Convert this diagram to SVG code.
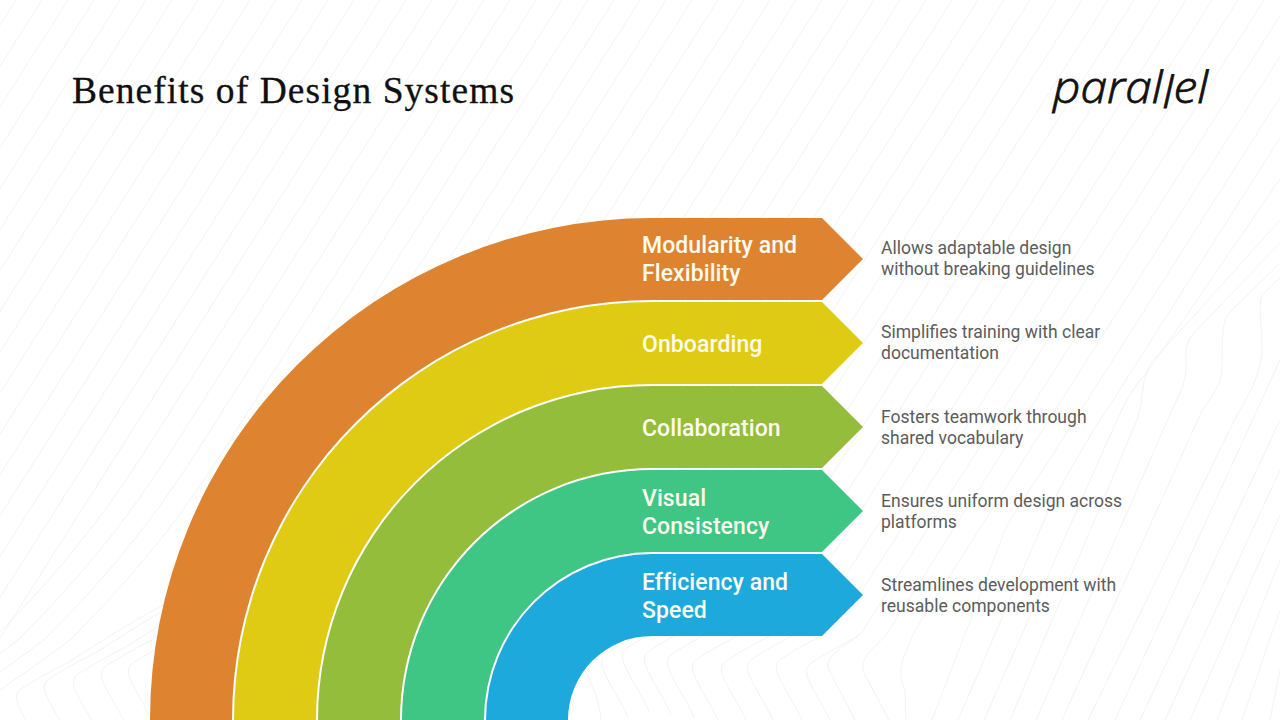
<svg xmlns="http://www.w3.org/2000/svg" width="1280" height="720" viewBox="0 0 1280 720">
<style>
.bg{fill:none;stroke:#f3f3f3;stroke-width:1}
.lab{font-family:Roboto,"Liberation Sans",sans-serif;font-weight:500;font-size:23px;letter-spacing:.08px;fill:#fdfbee}
.desc{font-family:Roboto,"Liberation Sans",sans-serif;font-weight:400;font-size:17.55px;fill:#5c5c5c}
</style>
<defs>
<path id="a" d="M0 0L-458 720"/>
<path id="f" d="M0 0L-250 393C-300 472-340 540-440 640C-480 670-510 690-540 710"/>
<path id="b" d="M0 0L-330 519"/>
<path id="c" d="M0 0L-382 600"/>
<path id="k" d="M26 60C22 48 12 34 5 20C0 10-4 2 4-4C16-12 34-22 50-30"/>
<path id="l" d="M26 60C22 48 12 34 5 20C0 10-4 2 4-4C16-12 34-22 50-30C70-42 110-70 160-95"/>
</defs>
<rect width="1280" height="720" fill="#fff"/>
<g id="background" class="bg">
<use href="#a" x="16"/><use href="#a" x="42"/><use href="#a" x="68"/><use href="#a" x="94"/><use href="#a" x="120"/><use href="#a" x="146"/><use href="#a" x="172"/><use href="#a" x="198"/><use href="#a" x="224"/><use href="#a" x="250"/><use href="#a" x="276"/><use href="#a" x="302"/><use href="#a" x="328"/><use href="#a" x="354"/><use href="#a" x="380"/><use href="#a" x="406"/>
<use href="#f" x="432"/><use href="#f" x="458"/><use href="#f" x="484"/><use href="#f" x="510"/>
<use href="#b" x="536"/><use href="#b" x="562"/><use href="#b" x="588"/><use href="#b" x="614"/><use href="#b" x="640"/><use href="#b" x="666"/><use href="#b" x="692"/><use href="#b" x="718"/><use href="#b" x="744"/><use href="#b" x="770"/><use href="#b" x="796"/><use href="#b" x="822"/><use href="#b" x="848"/><use href="#b" x="874"/><use href="#b" x="900"/><use href="#b" x="926"/><use href="#b" x="952"/><use href="#b" x="978"/><use href="#b" x="1004"/><use href="#b" x="1030"/><use href="#b" x="1056"/><use href="#b" x="1082"/><use href="#b" x="1108"/><use href="#b" x="1134"/><use href="#b" x="1160"/>
<use href="#c" x="1186"/><use href="#c" x="1212"/><use href="#c" x="1238"/>
<path d="M1264 0L862 632C850 645 820 655 830 672L855 720"/>
<path d="M1290 0L888 632C876 648 856 658 865 675L889 720"/>
<path d="M1316 0L914 632C905 655 895 670 905 690L906 720"/>
<path d="M1342 0L1060 443C1030 490 1012 515 1005 530L932 720"/>
<path d="M1280 138L1110 405C1080 450 1055 495 1040 530L958 720"/>
<path d="M1280 179L1147 373C1125 395 1118 420 1108 440L984 720"/>
<path d="M1280 220L1193 317L1155 358C1140 375 1145 395 1137 420L1010 720"/>
<path d="M1280 243L1195 332C1182 345 1187 360 1186 370C1185 385 1178 398 1172 410L1036 720"/>
<path d="M1280 263L1230 312C1222 320 1222 335 1222 370C1222 385 1208 400 1200 415L1062 720"/>
<path d="M1280 278L1262 295C1258 305 1262 330 1262 350C1260 380 1245 400 1232 425L1088 720"/>
<path d="M1280 360L1115 720M1280 420L1140 720M1280 470L1165 720M1280 515L1190 720M1280 560L1217 720M1280 610L1242 720M1280 670L1270 720"/>
<use href="#l" x="17" y="693"/><use href="#l" x="45" y="683"/><use href="#l" x="74" y="678"/><use href="#l" x="102" y="670"/><use href="#l" x="129" y="667"/>
<use href="#k" x="602" y="658"/><use href="#k" x="623" y="652"/><use href="#k" x="645" y="655"/><use href="#k" x="668" y="658"/><use href="#k" x="693" y="663"/><use href="#k" x="722" y="665"/><use href="#k" x="748" y="663"/><use href="#k" x="777" y="663"/><use href="#k" x="807" y="667"/>
<path d="M583 668C594 685 600 705 601 720"/>
</g>
<text id="title" x="72" y="102.5" font-family="'Liberation Serif',serif" font-size="37.5" fill="#101010" stroke="#101010" stroke-width=".3" textLength="442" lengthAdjust="spacing">Benefits of Design Systems</text>
<text id="logo" x="1053" y="103" font-family="'Open Sans',sans-serif" font-style="italic" font-weight="300" font-size="44" fill="#111" stroke="#111" stroke-width=".8" textLength="155" lengthAdjust="spacingAndGlyphs">paral<tspan dy="5">l</tspan><tspan dy="-5">el</tspan></text>
<g id="node-modularity">
<path fill="#de8431" d="M150 720A502 502 0 0 1 652 218H822L863 259L822 300H652A420 420 0 0 0 232 720Z"/>
<text class="lab" x="642" y="253">Modularity and</text><text class="lab" x="642" y="281">Flexibility</text>
<text class="desc" x="881" y="254">Allows adaptable design</text><text class="desc" x="881" y="275">without breaking guidelines</text>
</g>
<g id="node-onboarding">
<path fill="#dfcb14" d="M234 720A418 418 0 0 1 652 302H822L863 343L822 384H652A336 336 0 0 0 316 720Z"/>
<text class="lab" x="642" y="352">Onboarding</text>
<text class="desc" x="881" y="338">Simplifies training with clear</text><text class="desc" x="881" y="359">documentation</text>
</g>
<g id="node-collaboration">
<path fill="#94bd3b" d="M318 720A334 334 0 0 1 652 386H822L863 427L822 468H652A252 252 0 0 0 400 720Z"/>
<text class="lab" x="642" y="436">Collaboration</text>
<text class="desc" x="881" y="423">Fosters teamwork through</text><text class="desc" x="881" y="444">shared vocabulary</text>
</g>
<g id="node-consistency">
<path fill="#3fc684" d="M402 720A250 250 0 0 1 652 470H822L863 511L822 552H652A168 168 0 0 0 484 720Z"/>
<text class="lab" x="642" y="506">Visual</text><text class="lab" x="642" y="534">Consistency</text>
<text class="desc" x="881" y="507">Ensures uniform design across</text><text class="desc" x="881" y="528">platforms</text>
</g>
<g id="node-efficiency">
<path fill="#1ea9dc" d="M486 720A166 166 0 0 1 652 554H822L863 595L822 636H652A84 84 0 0 0 568 720Z"/>
<text class="lab" x="642" y="590">Efficiency and</text><text class="lab" x="642" y="618">Speed</text>
<text class="desc" x="881" y="591">Streamlines development with</text><text class="desc" x="881" y="612">reusable components</text>
</g>
</svg>
